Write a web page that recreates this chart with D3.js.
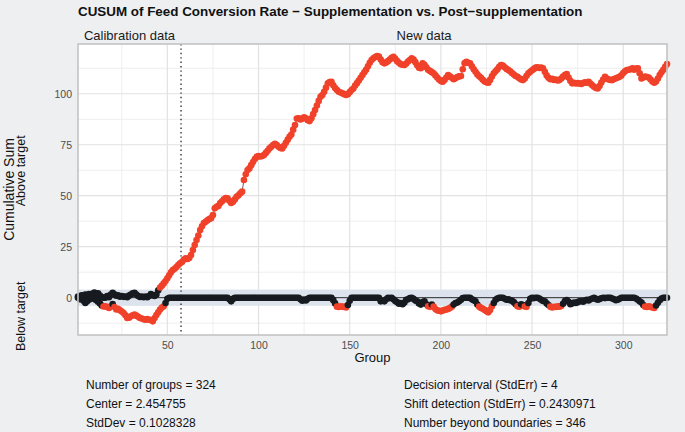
<!DOCTYPE html>
<html><head><meta charset="utf-8">
<script src="https://cdn.jsdelivr.net/npm/d3@7"></script>
<style>
body{margin:0;background:#edeff1}
svg{display:block}
text{font-family:"Liberation Sans",Arial,Helvetica,sans-serif}
</style></head>
<body><svg id="c" width="685" height="432"></svg>
<script>
// Upper CUSUM (above target), groups 1..324
const upper = [
0.5,0,1.2,0.8,1.5,1.0,1.8,1.2,2.0,2.5,
1.6,2.2,1.0,0.3,0,0,0.8,0.2,1.5,2.4,
1.6,1.0,1.2,0.5,0.8,0.4,0.6,0.2,1.0,1.5,
2.2,2.4,1.5,0.8,0.3,0.5,0.2,0.6,0.2,0.8,
1.8,1.2,0.8,1.5,3.6,5.0,5.9,7.0,8.2,9.5,
11.0,12.5,13.6,14.2,15.0,16.0,16.9,17.5,18.6,19.3,
19.0,19.4,20.9,23.4,25.8,28.3,30.5,33.2,35.0,36.6,
37.2,38.0,38.6,39.0,40.5,43.8,44.6,45.0,46.4,47.3,
48.2,48.9,48.7,47.5,46.4,47.0,48.2,49.5,50.2,51.2,
52.0,57.7,60.5,62.6,63.4,65.0,66.5,68.0,69.1,69.4,
69.2,69.5,70.0,71.0,72.0,73.2,74.0,74.9,75.5,74.8,
74.0,73.4,73.2,74.5,76.0,77.5,78.9,80.0,82.4,84.7,
87.9,88.0,87.4,87.8,88.4,88.0,87.0,86.6,88.0,90.0,
92.0,94.2,96.5,98.5,99.4,101.0,103.0,105.1,105.8,105.9,
104.2,102.8,101.8,101.0,100.6,100.2,99.8,99.4,99.8,100.8,
101.8,102.6,104.0,105.2,106.5,107.8,109.2,110.5,111.8,113.5,
115.2,116.5,117.4,118.0,118.5,118.2,116.8,115.5,114.9,115.3,
116.0,116.8,117.6,118.1,117.2,116.0,115.2,114.5,114.2,114.1,
114.8,115.8,116.5,117.4,116.8,115.5,114.0,112.8,112.5,114.9,
114.2,113.0,111.8,111.2,110.6,110.0,109.0,108.0,107.0,106.2,
105.9,106.8,108.0,109.2,108.6,107.8,107.1,107.6,108.2,108.5,
108.7,112.0,115.0,115.7,115.2,114.9,113.5,112.0,110.8,109.5,
108.6,107.8,106.9,106.0,105.6,105.4,106.8,108.5,110.0,111.0,
112.0,113.2,114.1,113.8,113.0,112.2,111.6,111.0,110.2,109.4,
108.7,108.3,107.6,107.0,106.7,107.5,108.8,110.0,110.8,111.5,
112.2,112.9,113.0,112.6,112.8,112.5,110.8,109.0,107.8,107.1,
107.3,106.8,107.0,106.5,106.7,107.5,108.4,109.2,109.7,108.0,
106.4,105.1,105.4,105.0,105.2,105.1,104.8,105.3,105.6,105.4,
105.9,105.0,104.2,103.4,102.8,102.6,103.8,105.5,107.0,108.3,
107.5,107.0,106.8,106.7,107.2,107.6,108.0,108.3,109.0,110.2,
111.0,111.6,111.8,112.0,112.5,111.8,112.3,112.5,110.0,107.5,
108.0,108.4,108.2,108.0,107.0,106.0,105.4,106.0,107.5,109.2,
110.5,111.8,113.2,114.6
];
// Lower CUSUM (below target), groups 1..324
const lower = [
0,-0.8,-0.3,-1.5,-2.6,-1.8,-1.0,-0.4,0,-0.6,
-1.2,-2.0,-2.8,-3.8,-4.3,-4.2,-4.6,-5.0,-4.2,-3.1,
-4.6,-5.8,-5.4,-6.2,-6.8,-7.5,-8.6,-10.0,-9.8,-9.1,
-8.7,-8.3,-8.8,-9.4,-10.0,-10.2,-10.6,-10.8,-10.5,-10.8,
-11.0,-11.6,-10.0,-8.5,-7.2,-5.8,-4.8,-4.2,-2.6,-0.5,
0,0,0,0,0,0,0,0,0,0,
0,0,0,0,0,0,0,0,0,0,
0,0,0,0,0,0,0,0,0,0,
0,0,0,-0.8,-1.8,-0.6,0,0,0,0,
0,0,0,0,0,0,0,0,0,0,
0,0,0,0,0,0,0,0,0,0,
0,0,0,0,0,0,0,0,0,0,
0,0,-0.8,-1.5,-0.9,-1.4,-0.5,0,0,0,
0,0,0,0,0,0,0,0,0,0,
-1.2,-2.8,-4.4,-4.6,-4.2,-4.5,-4.4,-4.8,-3.6,-1.5,
0,0,0,0,0,0,0,0,0,0,
0,0,0,0,0,0,-1.8,-1.5,-1.8,-0.8,
0,-0.2,0,-0.8,-1.6,-2.2,-3.0,-2.6,-3.2,-2.4,
-1.0,-0.8,-0.2,0,-0.6,-1.4,-1.8,-2.8,-3.4,-2.2,
-1.8,-3.2,-4.2,-4.5,-3.4,-4.4,-5.6,-6.2,-6.4,-6.7,
-6.3,-6.0,-5.8,-5.5,-5.0,-4.4,-3.4,-2.6,-2.4,-1.8,
-1.0,-0.2,0,0,0,0,-0.8,-1.2,-1.8,-3.4,
-4.4,-5.0,-5.4,-6.0,-6.7,-7.2,-6.0,-4.2,-2.6,-1.0,
-0.4,0,0,0,-0.5,-1.0,-0.8,-1.2,-1.5,-2.2,
-3.2,-4.2,-4.4,-3.2,-3.6,-4.3,-4.5,-2.6,-0.6,0,
-0.2,0,0,-0.4,-1.0,-1.6,-1.8,-2.8,-3.6,-4.4,
-4.8,-4.5,-4.6,-4.2,-4.4,-4.1,-3.0,-1.6,-1.2,-2.0,
-3.2,-2.8,-2.4,-2.6,-2.2,-1.8,-1.6,-2.0,-1.4,-1.0,
-1.4,-0.8,-0.4,0,-0.6,-1.0,-0.7,-0.3,0,-0.2,
0,0,0,-0.4,-0.8,-1.2,-1.0,-0.5,0,0,
0,0,0,0,0,0,-0.4,-1.0,-1.8,-2.4,
-3.6,-4.4,-4.6,-4.2,-4.5,-4.8,-5.0,-3.8,-2.5,-1.2,
-0.4,0,0,0
];
const xTicks = [50,100,150,200,250,300];
const xMinor = [25,75,125,175,225,275];
const yTicks = [0,25,50,75,100];
const yMinor = [-12.5,12.5,37.5,62.5,87.5,112.5];
const calibrationEnd = 57.5;
const decisionInterval = 4;
const titleText = "CUSUM of Feed Conversion Rate \u2212 Supplementation vs. Post\u2212supplementation";
const statsLeft = ["Number of groups = 324","Center = 2.454755","StdDev = 0.1028328"];
const statsRight = ["Decision interval (StdErr) = 4","Shift detection (StdErr) = 0.2430971","Number beyond boundaries = 346"];

const svg = d3.select("#c");
const L=78,R=667,T=44,B=335;
const x = d3.scaleLinear().domain([1,324]).range([L,R]);
const y = d3.scaleLinear().domain([-18.3,124.4]).range([B,T]);

svg.append("rect").attr("width",685).attr("height",432).attr("fill","#edeff1");
svg.append("rect").attr("x",L).attr("y",T).attr("width",R-L).attr("height",B-T).attr("fill","#ffffff");

const g = svg.append("g");
// grid
g.selectAll(".xm").data(xMinor).join("line").attr("x1",d=>x(d)).attr("x2",d=>x(d)).attr("y1",T).attr("y2",B).attr("stroke","#ececec").attr("stroke-width",0.9);
g.selectAll(".ym").data(yMinor).join("line").attr("y1",d=>y(d)).attr("y2",d=>y(d)).attr("x1",L).attr("x2",R).attr("stroke","#ececec").attr("stroke-width",0.9);
g.selectAll(".xM").data(xTicks).join("line").attr("x1",d=>x(d)).attr("x2",d=>x(d)).attr("y1",T).attr("y2",B).attr("stroke","#e2e2e2").attr("stroke-width",1.2);
g.selectAll(".yM").data(yTicks).join("line").attr("y1",d=>y(d)).attr("y2",d=>y(d)).attr("x1",L).attr("x2",R).attr("stroke","#e2e2e2").attr("stroke-width",1.2);

// decision band
g.append("rect").attr("x",L).attr("width",R-L).attr("y",y(decisionInterval)).attr("height",y(-decisionInterval)-y(decisionInterval)).attr("fill","#dde3ec");
// center line
g.append("line").attr("x1",L).attr("x2",R).attr("y1",y(0)).attr("y2",y(0)).attr("stroke","#2b2b2b").attr("stroke-width",1);
// calibration separator
g.append("line").attr("x1",x(calibrationEnd)).attr("x2",x(calibrationEnd)).attr("y1",T).attr("y2",B).attr("stroke","#333").attr("stroke-width",1.4).attr("stroke-dasharray","1.4,3");

// panel border
svg.append("rect").attr("x",L).attr("y",T).attr("width",R-L).attr("height",B-T).attr("fill","none").attr("stroke","#c4c4c4").attr("stroke-width",1.6);

const line = d3.line().x((d,i)=>x(i+1)).y(d=>y(d));
const red="#f0412a", blk="#171b20";
[upper,lower].forEach(s=>{
  g.append("path").datum(s).attr("d",line).attr("fill","none").attr("stroke",blk).attr("stroke-width",0.7);
});
[upper,lower].forEach(s=>{
  g.append("g").selectAll("circle").data(s).join("circle")
   .attr("cx",(d,i)=>x(i+1)).attr("cy",d=>y(d)).attr("r",3.3)
   .attr("fill",d=>Math.abs(d)>decisionInterval?red:blk);
});

// axes
const ax = svg.append("g").attr("transform",`translate(0,${B})`).call(d3.axisBottom(x).tickValues(xTicks).tickSize(0).tickPadding(7));
const ay = svg.append("g").attr("transform",`translate(${L},0)`).call(d3.axisLeft(y).tickValues(yTicks).tickSize(0).tickPadding(6));
[ax,ay].forEach(a=>{a.select(".domain").remove(); a.selectAll("text").attr("fill","#4d4d4d").style("font-size","10.5px").style("font-family","'Liberation Sans',Arial,sans-serif");});

// titles
svg.append("text").attr("x",L).attr("y",16).attr("font-weight","bold").attr("font-size","13.4px").attr("fill","#111").text(titleText);
svg.append("text").attr("x",(L+x(calibrationEnd))/2).attr("y",40).attr("text-anchor","middle").attr("font-size","13px").attr("fill","#1a1a1a").text("Calibration data");
svg.append("text").attr("x",(x(calibrationEnd)+R)/2).attr("y",40).attr("text-anchor","middle").attr("font-size","13px").attr("fill","#1a1a1a").text("New data");
svg.append("text").attr("x",(L+R)/2).attr("y",362).attr("text-anchor","middle").attr("font-size","13px").attr("fill","#111").text("Group");
svg.append("text").attr("transform",`translate(14,${(T+B)/2}) rotate(-90)`).attr("text-anchor","middle").attr("font-size","14px").attr("fill","#111").text("Cumulative Sum");
svg.append("text").attr("transform",`translate(24.5,${(T+y(0))/2}) rotate(-90)`).attr("text-anchor","middle").attr("font-size","12.5px").attr("fill","#111").text("Above target");
svg.append("text").attr("transform",`translate(24.5,${(y(0)+B)/2}) rotate(-90)`).attr("text-anchor","middle").attr("font-size","12.5px").attr("fill","#111").text("Below target");

// stats
svg.append("g").selectAll("text").data(statsLeft).join("text").attr("x",86).attr("y",(d,i)=>389+i*19).attr("font-size","12px").attr("fill","#111").text(d=>d);
svg.append("g").selectAll("text").data(statsRight).join("text").attr("x",404).attr("y",(d,i)=>389+i*19).attr("font-size","12px").attr("fill","#111").text(d=>d);
</script></body></html>
